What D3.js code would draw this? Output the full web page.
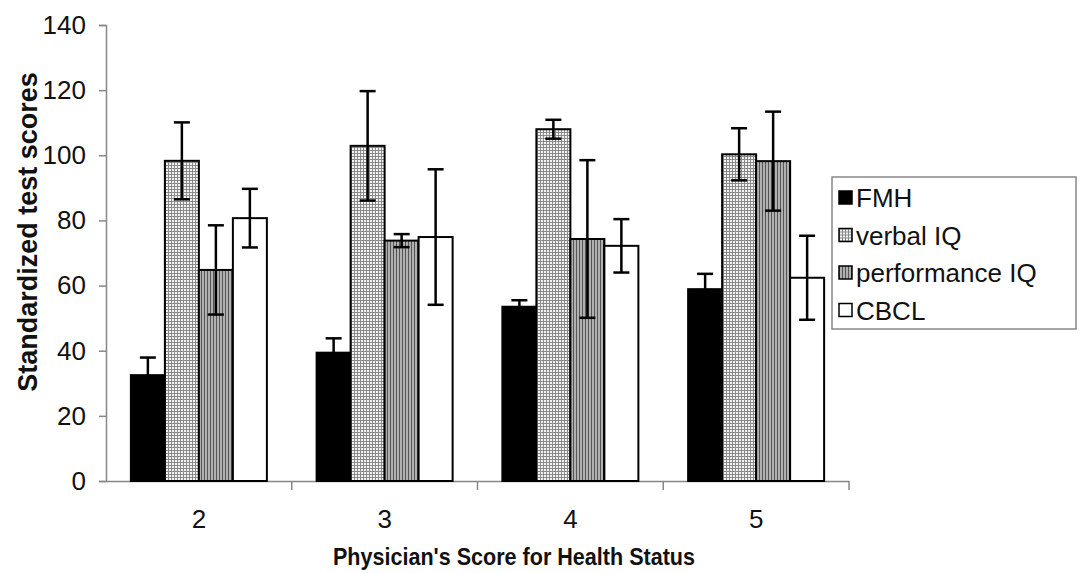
<!DOCTYPE html>
<html>
<head>
<meta charset="utf-8">
<script src="https://cdn.jsdelivr.net/npm/d3@7"></script>
<style>
  body { margin: 0; background: #fff; }
  svg { display: block; font-family: "Liberation Sans", Arial, sans-serif; }
</style>
</head>
<body>
<svg id="chart" width="1081" height="573"></svg>
<script>
// data
var categories = ['2', '3', '4', '5'];
var series = ['FMH', 'verbal IQ', 'performance IQ', 'CBCL'];
var fmh = [32.5, 39.4, 53.5, 58.9];
var verbalIQ = [98.3, 102.9, 108.0, 100.3];
var performanceIQ = [64.8, 73.8, 74.3, 98.2];
var cbcl = [80.7, 74.9, 72.2, 62.4];
var fmhErr = [5.4, 4.4, 2.0, 4.7];
var verbalErr = [11.8, 16.8, 2.9, 8.0];
var perfErr = [13.7, 2.0, 24.2, 15.2];
var cbclErr = [9.0, 20.8, 8.2, 12.9];
var yTicks = [0, 20, 40, 60, 80, 100, 120, 140];

var values = [fmh, verbalIQ, performanceIQ, cbcl];
var errs = [fmhErr, verbalErr, perfErr, cbclErr];

var svg = d3.select('#chart');

// patterns
var defs = svg.append('defs');
var pv = defs.append('pattern').attr('id', 'pVerbal')
    .attr('patternUnits', 'userSpaceOnUse').attr('width', 3).attr('height', 3);
pv.append('rect').attr('width', 3).attr('height', 3).attr('fill', '#f4f4f4');
pv.append('rect').attr('width', 1).attr('height', 3).attr('fill', '#8a8a8a');
pv.append('rect').attr('width', 3).attr('height', 1).attr('fill', '#8a8a8a');

var pp = defs.append('pattern').attr('id', 'pPerf')
    .attr('patternUnits', 'userSpaceOnUse').attr('width', 3).attr('height', 3);
pp.append('rect').attr('width', 3).attr('height', 3).attr('fill', '#b0b0b0');
pp.append('rect').attr('width', 1).attr('height', 3).attr('fill', '#555');

var fills = ['#000', 'url(#pVerbal)', 'url(#pPerf)', '#fff'];

var x0 = d3.scaleBand().domain(categories).range([106, 849]);
var groupW = 136;
var x1 = d3.scaleBand().domain(series).range([0, groupW]);
var y = d3.scaleLinear().domain([0, 140]).range([481, 25]);

// axes
var yAxis = svg.append('g')
    .attr('transform', 'translate(106,0)')
    .call(d3.axisLeft(y).tickValues(yTicks).tickSize(7).tickPadding(13));
yAxis.select('.domain').attr('stroke', '#888').attr('stroke-width', 1.5);
yAxis.selectAll('.tick line').attr('stroke', '#888').attr('stroke-width', 1.5);
yAxis.selectAll('.tick text').attr('font-size', 26).attr('fill', '#111')
    .attr('font-family', '"Liberation Sans", Arial, sans-serif');

var xAxis = svg.append('g')
    .attr('transform', 'translate(0,481)')
    .call(d3.axisBottom(x0).tickSize(0).tickPadding(29));
xAxis.select('.domain').attr('stroke', '#888').attr('stroke-width', 1.5);
xAxis.selectAll('.tick text').attr('font-size', 26).attr('fill', '#111')
    .attr('font-family', '"Liberation Sans", Arial, sans-serif');

// category boundary ticks
svg.append('g').selectAll('line')
    .data(categories)
    .join('line')
    .attr('x1', d => x0(d) + x0.bandwidth())
    .attr('x2', d => x0(d) + x0.bandwidth())
    .attr('y1', 481).attr('y2', 490)
    .attr('stroke', '#888').attr('stroke-width', 1.5);

// bars
var off = (x0.bandwidth() - groupW) / 2;
series.forEach(function (s, si) {
    svg.append('g').selectAll('rect')
        .data(categories)
        .join('rect')
        .attr('x', d => x0(d) + off + x1(s))
        .attr('y', (d, i) => y(values[si][i]))
        .attr('width', x1.bandwidth())
        .attr('height', (d, i) => y(0) - y(values[si][i]))
        .attr('fill', fills[si])
        .attr('stroke', '#000')
        .attr('stroke-width', 2);
});

// error bars
series.forEach(function (s, si) {
    var g = svg.append('g');
    categories.forEach(function (c, i) {
        var cx = x0(c) + off + x1(s) + x1.bandwidth() / 2;
        var lo = si == 0 ? values[si][i] : values[si][i] - errs[si][i];
        var hi = values[si][i] + errs[si][i];
        g.append('line').attr('x1', cx).attr('x2', cx)
            .attr('y1', y(lo)).attr('y2', y(hi))
            .attr('stroke', '#000').attr('stroke-width', 2.5);
        g.append('line').attr('x1', cx - 8).attr('x2', cx + 8)
            .attr('y1', y(hi)).attr('y2', y(hi))
            .attr('stroke', '#000').attr('stroke-width', 2.5);
        if (si != 0) {
            g.append('line').attr('x1', cx - 8).attr('x2', cx + 8)
                .attr('y1', y(lo)).attr('y2', y(lo))
                .attr('stroke', '#000').attr('stroke-width', 2.5);
        }
    });
});

// axis titles
svg.append('text')
    .attr('transform', 'translate(28,232) rotate(-90)')
    .attr('text-anchor', 'middle')
    .attr('dominant-baseline', 'central')
    .attr('font-size', 27).attr('font-weight', 'bold').attr('fill', '#111')
    .text('Standardized test scores');

svg.append('text')
    .attr('x', 333).attr('y', 565)
    .attr('textLength', 362).attr('lengthAdjust', 'spacingAndGlyphs')
    .attr('font-size', 24).attr('font-weight', 'bold').attr('fill', '#111')
    .text("Physician's Score for Health Status");

// legend
var leg = svg.append('g').attr('transform', 'translate(832,177)');
leg.append('rect').attr('width', 244).attr('height', 152)
    .attr('fill', '#fff').attr('stroke', '#888').attr('stroke-width', 1.5);
var items = leg.selectAll('g.item').data(series).join('g')
    .attr('class', 'item')
    .attr('transform', (d, i) => 'translate(7,' + (20 + i * 37.5) + ')');
items.append('rect').attr('x', 0).attr('y', -6).attr('width', 13).attr('height', 13)
    .attr('fill', (d, i) => fills[i]).attr('stroke', '#000').attr('stroke-width', 1.5);
items.append('text').attr('x', 17).attr('y', 1)
    .attr('dominant-baseline', 'central')
    .attr('font-size', 26).attr('fill', '#111')
    .text(d => d);
</script>
</body>
</html>
